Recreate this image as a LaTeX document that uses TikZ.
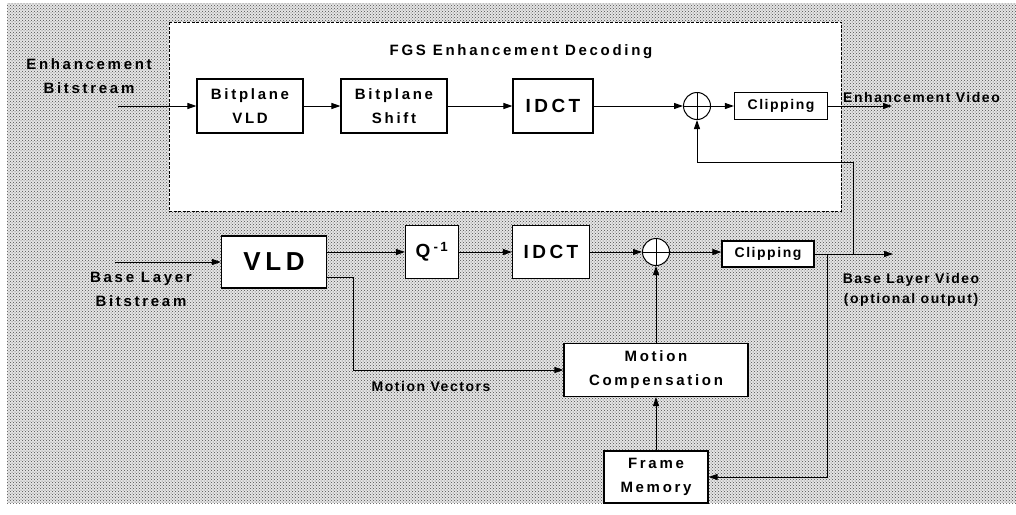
\documentclass[tikz,border=0pt]{standalone}
\usepackage{fontspec}
\setmainfont{Liberation Sans}[LetterSpace=18]
\usetikzlibrary{arrows.meta,calc,patterns}

\begin{document}
\begin{tikzpicture}[x=1pt,y=-1pt,
    box/.style={draw,line width=1.1pt,fill=white,align=center,inner sep=0pt,font=\bfseries\fontsize{15}{24}\selectfont},
    bigbox/.style={box,font=\bfseries\fontsize{19}{24}\selectfont},
    smallbox/.style={box,font=\bfseries\fontsize{14}{20}\selectfont\addfontfeatures{LetterSpace=11}},
    txt/.style={align=center,inner sep=1pt,font=\bfseries\fontsize{15}{24}\selectfont},
    smalltxt/.style={align=center,inner sep=1pt,font=\bfseries\fontsize{14}{20}\selectfont\addfontfeatures{LetterSpace=11}},
    sumnode/.style={draw,circle,line width=1pt,fill=white,minimum size=27pt,inner sep=0pt},
    arr/.style={line width=1pt,-{Triangle[length=9pt,width=6pt]}},
    wire/.style={line width=1pt}]
        \useasboundingbox (0,0) rectangle (1016,514);
        \fill[white] (0,0) rectangle (1016,514);
        \fill[black!10] (7,3) rectangle (1016,503);
        \fill[pattern=crosshatch dots,pattern color=black!70] (7,3) rectangle (1016,503);
        \draw[fill=white,line width=0.8pt,dash pattern=on 3pt off 1.5pt] (169,22) rectangle (841,211);
        \node[txt] (fgstitle) at (521,52) {FGS Enhancement Decoding};
        % enhancement layer
        \node[txt] (enhin) at (89,76) {Enhancement\\Bitstream};
        \coordinate (enhsrc) at (118,106);
        \node[box,minimum width=106pt,minimum height=54pt] (bvld) at (250,106) {Bitplane\\VLD};
        \node[box,minimum width=106pt,minimum height=54pt] (bshift) at (394,106) {Bitplane\\Shift};
        \node[bigbox,minimum width=80pt,minimum height=54pt] (tidct) at (553,106) {IDCT};
        \node[sumnode] (tsum) at (697,106) {};
        \node[smallbox,minimum width=93pt,minimum height=27pt] (tclip) at (781,106) {Clipping};
        \coordinate (tout) at (892,106);
        \node[smalltxt,anchor=base west] (toutlbl) at (842,102) {Enhancement Video};
        \draw[arr] (enhsrc) -- (bvld);
        \draw[arr] (bvld) -- (bshift);
        \draw[arr] (bshift) -- (tidct);
        \draw[arr] (tidct) -- (tsum);
        \draw[arr] (tsum) -- (tclip);
        \draw[arr] (tclip) -- (tout);
        \draw[wire] (tsum.north) -- (tsum.south) (tsum.west) -- (tsum.east);
        % base layer
        \node[txt] (basein) at (141,289) {Base Layer\\Bitstream};
        \coordinate (basesrc) at (115,262);
        \node[box,minimum width=105pt,minimum height=52pt,font=\bfseries\fontsize{26}{30}\selectfont] (vld) at (274,262) {VLD};
        \node[bigbox,minimum width=53pt,minimum height=53pt] (q) at (432,252) {Q\,\textsuperscript{-1}};
        \node[bigbox,minimum width=77pt,minimum height=53pt] (bidct) at (551,252) {IDCT};
        \node[sumnode] (bsum) at (656,252) {};
        \node[smallbox,minimum width=92pt,minimum height=26pt] (bclip) at (768,254) {Clipping};
        \coordinate (bout) at (893,254);
        \node[smalltxt] (boutlbl) at (911,290) {Base Layer Video\\(optional output)};
        \coordinate (fbtap) at (853,254);
        \coordinate (fbturn) at (853,162);
        \coordinate (fmtap) at (827,254);
        \node[box,minimum width=184pt,minimum height=53pt] (mc) at (656,370) {Motion\\Compensation};
        \node[box,minimum width=104pt,minimum height=52pt] (fm) at (656,477) {Frame\\Memory};
        \coordinate (mvstart) at ($(vld.east)+(0,15)$);
        \coordinate (mvbend) at (353,370);
        \node[smalltxt] (mvlbl) at (431,386) {Motion Vectors};
        \draw[arr] (basesrc) -- (vld);
        \draw[arr] (vld.east |- q) -- (q);
        \draw[arr] (q) -- (bidct);
        \draw[arr] (bidct) -- (bsum);
        \draw[arr] (bsum.east) -- (bclip.west |- bsum);
        \draw[arr] (bclip) -- (bout);
        \draw[wire] (bsum.north) -- (bsum.south) (bsum.west) -- (bsum.east);
        \draw[arr] (fbtap) -- (fbturn) -| (tsum.south);
        \draw[arr] (fmtap) |- (fm.east);
        \draw[arr] (fm) -- (mc);
        \draw[arr] (mc) -- (bsum);
        \draw[arr] (mvstart) -| (mvbend) -- (mc.west);
      \end{tikzpicture}
\end{document}
